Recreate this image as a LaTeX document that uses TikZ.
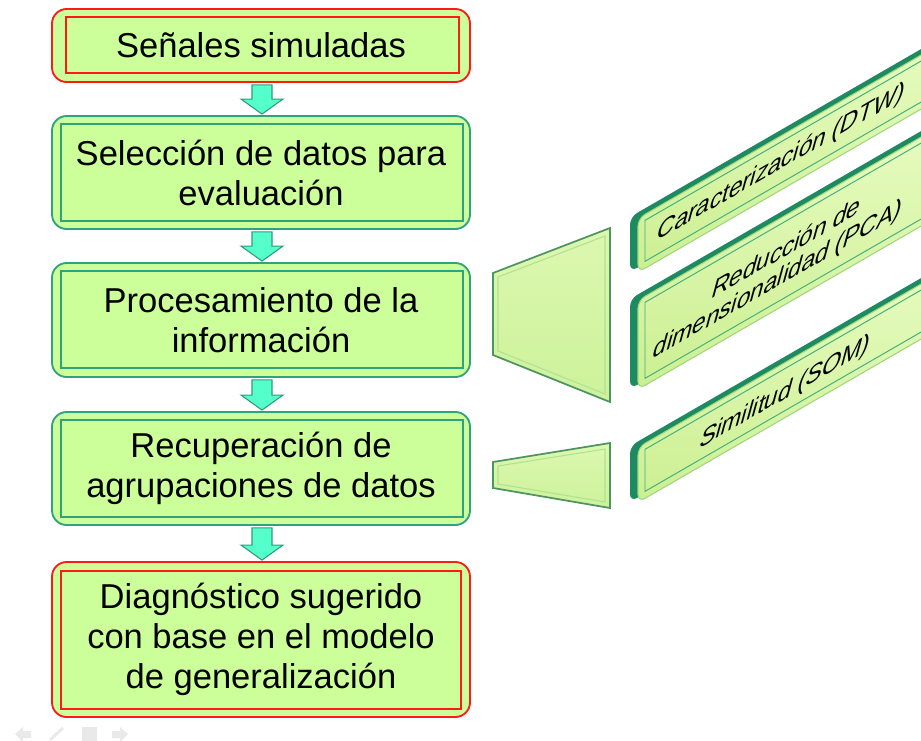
\documentclass[tikz,border=0pt]{standalone}
\usepackage{fontspec}
\setmainfont{Liberation Sans}
\usetikzlibrary{calc}
\definecolor{boxfill}{HTML}{CCFF99}
\definecolor{redline}{HTML}{FF1A1A}
\definecolor{tealline}{HTML}{2FA47C}
\definecolor{arrowfill}{HTML}{55FFCC}
\definecolor{arrowline}{HTML}{2E9C7C}
\definecolor{slabgreen}{HTML}{1E8A62}
\definecolor{facetop}{HTML}{E8FCC2}
\definecolor{facebot}{HTML}{CCEF92}
\definecolor{faceline}{HTML}{9ED77E}
\definecolor{cardinner}{HTML}{3FAE7C}
\definecolor{trapline}{HTML}{4E9460}
\definecolor{trapinner}{HTML}{B2E096}
\definecolor{trapfilltop}{HTML}{DDF8B0}
\definecolor{trapfillbot}{HTML}{CCF29A}
\definecolor{navgray}{HTML}{E9E9E9}
\newcommand\blockarrow[2]{%
  \draw[arrowshape] let \p1=($(#1.south)+(1,2)$), \p2=($(#2.north)+(1,-1)$) in
    (\x1-7.5pt,\y1) -- (\x1+7.5pt,\y1) -- (\x1+7.5pt,\y2+11.25pt) -- (\x1+15.75pt,\y2+11.25pt)
    -- (\x1,\y2) -- (\x1-15.75pt,\y2+11.25pt) -- (\x1-7.5pt,\y2+11.25pt) -- cycle;}
\newcommand\slantcard[2]{%
  \fill[slabgreen, rounded corners=6pt] (0,#1) rectangle (330,{#2-5});
  \shade[top color=facetop, bottom color=facebot, draw=faceline, line width=0.8pt, rounded corners=6pt] (8,{#1+6}) rectangle (345,#2);
  \draw[cardinner, line width=0.7pt] (15,{#1+12}) rectangle (345,{#2-7});}
\begin{document}
\begin{tikzpicture}[x=0.75pt,y=-0.75pt,
  mainbox/.style={rounded corners=11pt, fill=boxfill, line width=1.4pt,
    minimum width=313.5pt, align=center, inner sep=0pt,
    font=\fontsize{25.9}{30}\selectfont},
  redbox/.style={mainbox, draw=redline},
  tealbox/.style={mainbox, draw=tealline},
  redinner/.style={draw=redline, line width=1.1pt},
  tealinner/.style={draw=tealline, line width=1.1pt},
  arrowshape/.style={draw=arrowline, fill=arrowfill, line width=0.8pt, line join=miter},
  cardtext/.style={align=center, inner sep=0pt, transform shape,
    font=\fontsize{21}{23.5}\selectfont},
  cardxf/.style={cm={0.866,0.5,0.27,0.99,(0,0)}},
  trap/.style={draw=trapline, line width=1.3pt, top color=trapfilltop, bottom color=trapfillbot},
  trapbevel/.style={draw=trapinner, line width=0.8pt}]
\useasboundingbox (0,0) rectangle (921,740);
\clip (0,0) rectangle (921,740);

% main flow boxes
\node[redbox, minimum height=54.75pt] (b1) at (261,45.5) {Señales simuladas};
\draw[redinner] ($(b1.north west)+(15,9)$) rectangle ($(b1.south east)+(-12,-10)$);

\node[tealbox, minimum height=84.75pt] (b2) at (261,172.5) {Selección de datos para\\evaluación};
\draw[tealinner] ($(b2.north west)+(10,9)$) rectangle ($(b2.south east)+(-8,-9)$);

\node[tealbox, minimum height=85.5pt] (b3) at (261,320) {Procesamiento de la\\información};
\draw[tealinner] ($(b3.north west)+(10,9)$) rectangle ($(b3.south east)+(-8,-10)$);

\node[tealbox, minimum height=84.75pt] (b4) at (261,468.5) {Recuperación de\\agrupaciones de datos};
\draw[tealinner] ($(b4.north west)+(10,9)$) rectangle ($(b4.south east)+(-8,-9)$);

\node[redbox, minimum height=116.25pt] (b5) at (261,639.5) {Diagnóstico sugerido\\con base en el modelo\\de generalización};
\draw[redinner] ($(b5.north west)+(10,10)$) rectangle ($(b5.south east)+(-10,-9)$);

% block arrows
\blockarrow{b1}{b2}
\blockarrow{b2}{b3}
\blockarrow{b3}{b4}
\blockarrow{b4}{b5}

% trapezoids
\draw[trap] (493,273) -- (610,228) -- (610,402) -- (493,355) -- cycle;
\draw[trapbevel] (498,277) -- (605,236) -- (605,394) -- (498,351) -- cycle;
\draw[trap] (493,462) -- (610,443) -- (610,508) -- (493,488) -- cycle;
\draw[trapbevel] (498,466) -- (605,449) -- (605,502) -- (498,484) -- cycle;

% slanted cards
\begin{scope}[shift={(630,0)}, yslant=0.577]
  \slantcard{217}{277}
  \slantcard{299}{394}
  \slantcard{446}{507}
\end{scope}
\begin{scope}[shift={(781,163)}, cardxf]
  \node[cardtext] (k1) at (0,0) {Caracterización (DTW)};
\end{scope}
\begin{scope}[shift={(782,265)}, cardxf]
  \node[cardtext] (k2) at (0,0) {Reducción de\\dimensionalidad (PCA)};
\end{scope}
\begin{scope}[shift={(785,393)}, cardxf]
  \node[cardtext] (k3) at (0,0) {Similitud (SOM)};
\end{scope}

% faint slide navigation icons
\fill[navgray] (15,734) -- (23,727) -- (23,731) -- (31,731) -- (31,738) -- (23,738) -- (23,742) -- cycle;
\draw[navgray, line width=2.2pt] (50,740) -- (63,728);
\fill[navgray] (82,727) rectangle (97,741);
\fill[navgray] (128,734) -- (120,727) -- (120,731) -- (112,731) -- (112,738) -- (120,738) -- (120,742) -- cycle;
\end{tikzpicture}
\end{document}
